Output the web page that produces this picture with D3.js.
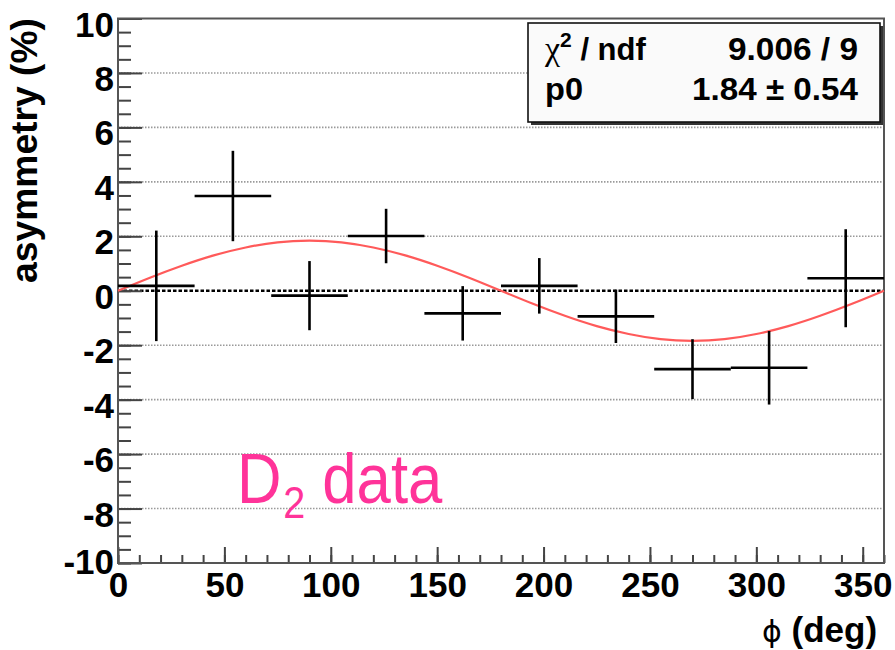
<!DOCTYPE html>
<html>
<head>
<meta charset="utf-8">
<script src="https://cdn.jsdelivr.net/npm/d3@7"></script>
<style>
  body { margin: 0; background: #fff; }
  svg { display: block; }
  text { font-family: "Liberation Sans", Arial, sans-serif; }
</style>
</head>
<body>
<svg width="895" height="650"></svg>
<script>
// measured bins (phi in deg), asymmetry in %
var phiCenter = [18, 54, 90, 126, 162, 198, 234, 270, 306, 342];
var phiHalf   = [18, 18, 18, 18, 18, 18, 18, 18, 18, 18];
var asym      = [0.18, 3.48, -0.18, 2.01, -0.83, 0.18, -0.94, -2.88, -2.83, 0.46];
var asymErr   = [2.03, 1.66, 1.27, 1.0, 1.0, 1.02, 0.98, 1.1, 1.35, 1.8];

// fitted curve
var fitPhi = [0, 15, 30, 45, 60, 75, 90, 105, 120, 135, 150, 165, 180,
              195, 210, 225, 240, 255, 270, 285, 300, 315, 330, 345, 360];
var fitVal = [0, 0.48, 0.92, 1.30, 1.59, 1.78, 1.84, 1.78, 1.59, 1.30, 0.92, 0.48, 0,
              -0.48, -0.92, -1.30, -1.59, -1.78, -1.84, -1.78, -1.59, -1.30, -0.92, -0.48, 0];

var yMajor = [-10, -8, -6, -4, -2, 0, 2, 4, 6, 8, 10];
var xMajor = [0, 50, 100, 150, 200, 250, 300, 350];

var statNames  = ["ndf", "p0"];
var statValues = ["9.006 / 9", "1.84 \u00b1 0.54"];

var svg = d3.select("svg");
var x = d3.scaleLinear().domain([0, 360]).range([118, 884]);
var y = d3.scaleLinear().domain([-10, 10]).range([563, 18.5]);
var fmt = function(d) { return String(d); };  // plain hyphen minus like the original

// dotted grid
svg.append("g").selectAll("line").data(yMajor.filter(function(d) { return d > -10 && d < 10 && d != 0; }))
  .enter().append("line")
  .attr("x1", x(0)).attr("x2", x(360))
  .attr("y1", function(d) { return y(d); }).attr("y2", function(d) { return y(d); })
  .attr("stroke", "#9a9a9a").attr("stroke-width", 1.6).attr("stroke-dasharray", "1.5,1.5");

// zero line
svg.append("line")
  .attr("x1", x(0)).attr("x2", x(360)).attr("y1", y(0)).attr("y2", y(0))
  .attr("stroke", "#000").attr("stroke-width", 2.6).attr("stroke-dasharray", "3.5,2");

// minor ticks
var yMinor = d3.range(-10, 10.01, 0.5);
svg.append("g").attr("transform", "translate(118,0)")
  .call(d3.axisLeft(y).tickValues(yMinor).tickSizeInner(-13).tickSizeOuter(0).tickFormat(""))
  .call(function(g) { g.select(".domain").remove(); g.selectAll("line").attr("stroke", "#444").attr("stroke-width", 2); });
var xMinor = d3.range(0, 360.01, 10);
svg.append("g").attr("transform", "translate(0,563)")
  .call(d3.axisBottom(x).tickValues(xMinor).tickSizeInner(-8).tickSizeOuter(0).tickFormat(""))
  .call(function(g) { g.select(".domain").remove(); g.selectAll("line").attr("stroke", "#444").attr("stroke-width", 2); });

// major ticks + labels
var yAxis = svg.append("g").attr("transform", "translate(118,0)")
  .call(d3.axisLeft(y).tickValues(yMajor).tickSizeInner(-24).tickSizeOuter(0).tickPadding(4).tickFormat(fmt));
yAxis.select(".domain").remove();
yAxis.selectAll("line").attr("stroke", "#444").attr("stroke-width", 2);
yAxis.selectAll("text").attr("font-size", 35).attr("font-weight", "bold").attr("fill", "#000")
  .attr("font-family", "'Liberation Sans', Arial, sans-serif")
  .attr("dy", function(d) { return d == -10 ? "0.3em" : "0.5em"; });

var xAxis = svg.append("g").attr("transform", "translate(0,563)")
  .call(d3.axisBottom(x).tickValues(xMajor).tickSizeInner(-16).tickSizeOuter(0).tickPadding(0).tickFormat(fmt));
xAxis.select(".domain").remove();
xAxis.selectAll("line").attr("stroke", "#444").attr("stroke-width", 2);
xAxis.selectAll("text").attr("font-size", 35).attr("font-weight", "bold").attr("fill", "#000")
  .attr("font-family", "'Liberation Sans', Arial, sans-serif")
  .attr("y", 34).attr("dy", 0);

// frame
svg.append("rect").attr("x", x(0)).attr("y", y(10)).attr("width", x(360) - x(0)).attr("height", y(-10) - y(10))
  .attr("fill", "none").attr("stroke", "#555").attr("stroke-width", 2);

// fit curve
var line = d3.line().x(function(d, i) { return x(fitPhi[i]); }).y(function(d) { return y(d); }).curve(d3.curveNatural);
svg.append("path").datum(fitVal).attr("d", line)
  .attr("fill", "none").attr("stroke", "#ff5a5a").attr("stroke-width", 2.2);

// data points with error bars
var pts = svg.append("g").selectAll("g").data(asym).enter().append("g");
pts.append("line")
  .attr("x1", function(d, i) { return x(phiCenter[i] - phiHalf[i]); })
  .attr("x2", function(d, i) { return x(phiCenter[i] + phiHalf[i]); })
  .attr("y1", function(d) { return y(d); }).attr("y2", function(d) { return y(d); })
  .attr("stroke", "#000").attr("stroke-width", 2.6);
pts.append("line")
  .attr("x1", function(d, i) { return x(phiCenter[i]); })
  .attr("x2", function(d, i) { return x(phiCenter[i]); })
  .attr("y1", function(d, i) { return y(d + asymErr[i]); })
  .attr("y2", function(d, i) { return y(d - asymErr[i]); })
  .attr("stroke", "#000").attr("stroke-width", 2.6);

// axis titles
svg.append("text").attr("transform", "translate(37,283) rotate(-90)")
  .attr("font-size", 36).attr("font-weight", "bold").attr("textLength", 265).attr("lengthAdjust", "spacingAndGlyphs")
  .text("asymmetry (%)");
var xt = svg.append("text").attr("x", 762).attr("y", 642).attr("font-size", 35).attr("font-weight", "bold");
xt.append("tspan").attr("font-weight", "normal").attr("font-family", "'DejaVu Sans', sans-serif").attr("font-size", 30).text("\u03d5");
xt.append("tspan").text(" (deg)");

// stats box
svg.append("rect").attr("x", 531).attr("y", 26).attr("width", 352).attr("height", 99).attr("fill", "#333");
svg.append("rect").attr("x", 528).attr("y", 23).attr("width", 352).attr("height", 99)
  .attr("fill", "#fafafa").attr("stroke", "#111").attr("stroke-width", 1.6);

var s1 = svg.append("text").attr("x", 545).attr("y", 60).attr("font-size", 31).attr("font-weight", "bold");
s1.append("tspan").attr("font-family", "'Liberation Serif', serif").attr("font-weight", "normal").attr("font-size", 34).text("\u03c7");
s1.append("tspan").attr("font-size", 21).attr("dy", -13).text("2");
s1.append("tspan").attr("dy", 13).text(" / " + statNames[0]);
svg.append("text").attr("x", 728).attr("y", 60).attr("font-size", 31).attr("font-weight", "bold")
  .attr("textLength", 130).attr("lengthAdjust", "spacingAndGlyphs").text(statValues[0]);
svg.append("text").attr("x", 545).attr("y", 100).attr("font-size", 31).attr("font-weight", "bold")
  .attr("textLength", 38).attr("lengthAdjust", "spacingAndGlyphs").text(statNames[1]);
svg.append("text").attr("x", 692).attr("y", 100).attr("font-size", 31).attr("font-weight", "bold")
  .attr("textLength", 166).attr("lengthAdjust", "spacingAndGlyphs").text(statValues[1]);

// label, one text element: D, subscript 2, data
var pink = "#ff3399";
var lab = svg.append("text").attr("transform", "translate(237,503) scale(0.88,1)")
  .attr("font-size", 70).attr("fill", pink);
lab.append("tspan").text("D");
lab.append("tspan").attr("font-size", 45).attr("dx", 2).attr("dy", 15).text("2");
lab.append("tspan").attr("dy", -15).text(" data");
</script>
</body>
</html>
